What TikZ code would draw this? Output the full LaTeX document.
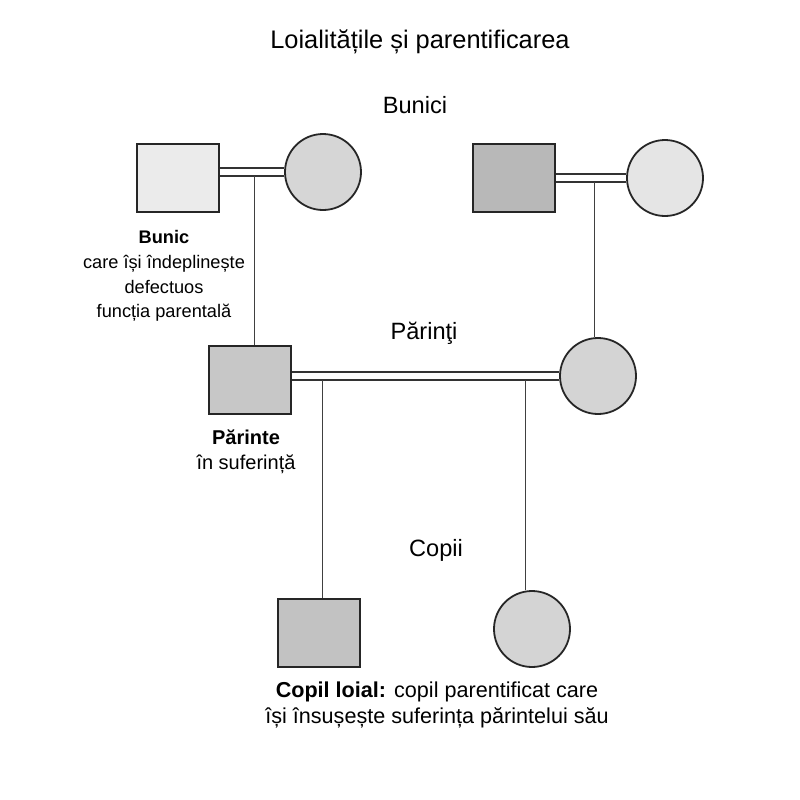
\documentclass[tikz,border=0pt]{standalone}
\usepackage{fontspec}
\setmainfont{Liberation Sans}
\begin{document}
\begin{tikzpicture}[x=0.5pt,y=-0.5pt,
  sq/.style={draw=black!85, line width=0.9pt, minimum width=41pt, minimum height=34pt, inner sep=0pt},
  ci/.style={draw=black!85, line width=0.9pt, circle, minimum size=38pt, inner sep=0pt},
  marriage/.style={draw=black!80, line width=0.6pt, double=white, double distance=3.4pt},
  descent/.style={draw=black!75, line width=0.5pt},
  gen/.style={font=\fontsize{11.8}{14}\selectfont},
  lbl/.style={align=center, font=\fontsize{10}{12.5}\selectfont},
  slbl/.style={align=center, font=\fontsize{9.1}{12.4}\selectfont},
  blbl/.style={align=center, font=\fontsize{10.8}{13}\selectfont}
]
\useasboundingbox (0,0) rectangle (800,800);
\fill[white] (0,0) rectangle (800,800);

% title
\node (title) at (420,42) {\fontsize{12.7}{15}\selectfont Loialitățile și parentificarea};

% generation labels
\node[gen] (lbunici) at (415,105) {Bunici};
\node[gen] (lparinti) at (424,333) {Părinţi};
\node[gen] (lcopii) at (436,550) {Copii};

% grandparents
\node[sq, fill=black!8] (gpL) at (178,178) {};
\node[ci, fill=black!16] (gmL) at (323,172) {};
\node[sq, fill=black!28] (gpR) at (514,178) {};
\node[ci, fill=black!10] (gmR) at (665,178) {};

% parents
\node[sq, fill=black!22] (p) at (250,380) {};
\node[ci, fill=black!17] (m) at (598,376) {};

% children
\node[sq, fill=black!24] (c1) at (319,633) {};
\node[ci, fill=black!17] (c2) at (532,629) {};

% marriage lines
\draw[marriage] (gpL.east |- gmL.center) -- (gmL.west);
\draw[marriage] (gpR.east) -- (gmR.west);
\draw[marriage] (p.east |- m.center) -- (m.west);

% descent
\coordinate (dL) at (254,176);
\coordinate (dR) at (594,182);
\coordinate (d1) at (322,380);
\coordinate (d2) at (525,380);
\draw[descent] (dL) -- (dL |- p.north);
\draw[descent] (dR) -- (dR |- m.north);
\draw[descent] (d1) -- (d1 |- c1.north);
\draw[descent] (d2) -- (d2 |- c2.north);

% labels
\node[slbl] (tBunic) at (164,276) {\textbf{Bunic}\\care își îndeplinește\\defectuos\\funcția parentală};
\node[lbl] (tParinte) at (246,452) {\textbf{Părinte}\\în suferință};
\node[blbl] (tCopil) at (437,705) {\textbf{Copil loial:} copil parentificat care\\își însușește suferința părintelui său};
\end{tikzpicture}
\end{document}
